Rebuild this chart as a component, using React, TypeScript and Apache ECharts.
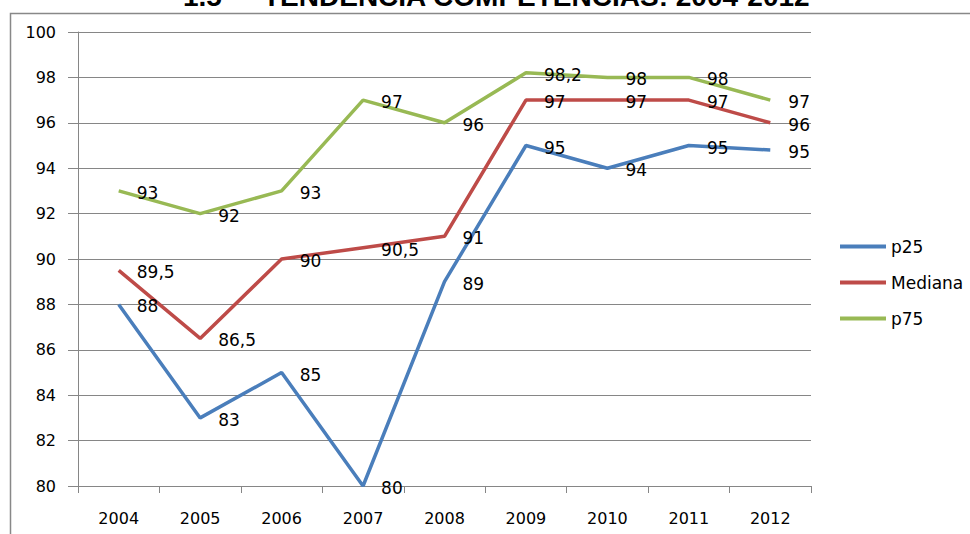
import React, { useEffect, useRef } from "react";
import * as echarts from "echarts";

const years = ["2004", "2005", "2006", "2007", "2008", "2009", "2010", "2011", "2012"];
const p25 = [88, 83, 85, 80, 89, 95, 94, 95, 94.8];
const mediana = [89.5, 86.5, 90, 90.5, 91, 97, 97, 97, 96];
const p75 = [93, 92, 93, 97, 96, 98.2, 98, 98, 97];
const seriesNames = ["p25", "Mediana", "p75"];
const yMin = 80;
const yMax = 100;
const yStep = 2;
const titleNumber = "1.5";
const titleText = "TENDENCIA COMPETENCIAS: 2004-2012";

const FONT = "DejaVu Sans";
const GRAY = "#868686";
const COLORS = ["#4A7EBB", "#BE4B48", "#98B954"];

export default function App() {
  const ref = useRef<HTMLDivElement>(null);
  useEffect(() => {
    if (!ref.current) return;
    const chart = echarts.init(ref.current, null, { renderer: "svg" });
    const fmtDecimal = (p: any) => String(p.value).replace(".", ",");
    const fmtInt = (p: any) => String(Math.round(p.value));
    const mk = (name: string, data: number[], color: string, fmt: any) => ({
      name,
      type: "line",
      data,
      symbol: "circle",
      symbolSize: 0.1,
      lineStyle: { color, width: 3.5 },
      itemStyle: { color },
      label: {
        show: true,
        position: "right",
        distance: 18,
        offset: [0, 2],
        color: "#000",
        fontFamily: FONT,
        fontSize: 17,
        formatter: fmt,
      },
      emphasis: { disabled: true },
    });
    chart.setOption({
      animation: false,
      color: COLORS,
      grid: { left: 78, right: 159, top: 32, bottom: 48, containLabel: false },
      xAxis: {
        type: "category",
        data: years,
        boundaryGap: true,
        axisLine: { lineStyle: { color: GRAY, width: 1 } },
        axisTick: { show: true, length: 7, alignWithLabel: false, lineStyle: { color: GRAY } },
        axisLabel: { color: "#000", fontFamily: FONT, fontSize: 16, margin: 24 },
        splitLine: { show: false },
      },
      yAxis: {
        type: "value",
        min: yMin,
        max: yMax,
        interval: yStep,
        axisLine: { show: true, lineStyle: { color: GRAY, width: 1 } },
        axisTick: { show: true, length: 10, lineStyle: { color: GRAY } },
        axisLabel: { color: "#000", fontFamily: FONT, fontSize: 16, margin: 22 },
        splitLine: { show: true, lineStyle: { color: GRAY, width: 1 } },
      },
      legend: {
        orient: "vertical",
        left: 835,
        top: 233,
        icon: "rect",
        itemWidth: 46,
        itemHeight: 4,
        itemGap: 19,
        data: seriesNames,
        textStyle: { color: "#000", fontFamily: FONT, fontSize: 17, lineHeight: 16 },
      },
      graphic: [
        {
          type: "rect",
          shape: { x: 10.5, y: 13.5, width: 1200, height: 800 },
          style: { fill: "none", stroke: "#888", lineWidth: 1.5 },
          silent: true,
        },
        {
          type: "text",
          x: 183,
          y: -4,
          style: {
            text: titleNumber,
            fontFamily: "Liberation Sans",
            fontWeight: "bold",
            fontSize: 28,
            fill: "#000",
            verticalAlign: "middle",
          },
          silent: true,
        },
        {
          type: "text",
          x: 263,
          y: -4,
          style: {
            text: titleText,
            fontFamily: "Liberation Sans",
            fontWeight: "bold",
            fontSize: 28,
            fill: "#000",
            verticalAlign: "middle",
          },
          silent: true,
        },
      ],
      series: [
        mk(seriesNames[0], p25, COLORS[0], fmtInt),
        mk(seriesNames[1], mediana, COLORS[1], fmtDecimal),
        mk(seriesNames[2], p75, COLORS[2], fmtDecimal),
      ],
    });
    return () => chart.dispose();
  }, []);
  return (
    <div
      ref={ref}
      style={{ position: "absolute", left: 0, top: 0, width: 970, height: 534, background: "#fff" }}
    />
  );
}
